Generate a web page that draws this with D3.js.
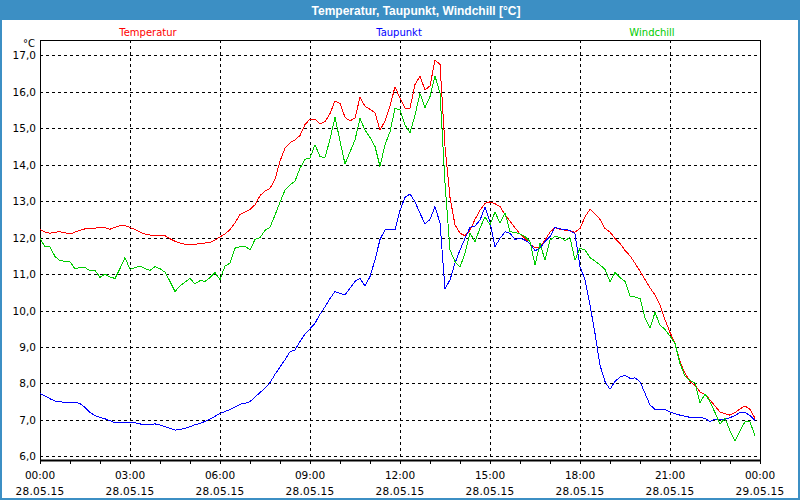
<!DOCTYPE html>
<html>
<head>
<meta charset="utf-8">
<script src="https://cdn.jsdelivr.net/npm/d3@7"></script>
<style>
  body { margin: 0; background: #fff; }
  svg { display: block; }
  text { font-family: "DejaVu Sans", sans-serif; }
</style>
</head>
<body>
<svg id="chart" width="800" height="500"></svg>
<script>
// measurements every 10 minutes, 28.05.15 00:00 .. 23:50
const seriesNames = ['Temperatur', 'Taupunkt', 'Windchill']
const yTicks = [6, 7, 8, 9, 10, 11, 12, 13, 14, 15, 16, 17]

const temperatur = [
  12.23,12.15,12.12,12.15,12.16,12.13,12.1,12.15,12.2,12.24,12.25,12.26,
  12.28,12.27,12.23,12.28,12.33,12.33,12.28,12.22,12.15,12.1,12.07,12.06,
  12.06,12.05,11.97,11.9,11.85,11.82,11.82,11.82,11.83,11.85,11.87,11.93,
  12.02,12.1,12.22,12.4,12.63,12.7,12.77,12.9,13.15,13.28,13.35,13.6,
  14.1,14.45,14.6,14.68,14.8,15.1,15.25,15.25,15.12,15.18,15.4,15.75,
  15.68,15.3,15.2,15.28,15.85,15.6,15.52,15.43,14.95,15.2,15.6,16.14,
  15.82,15.55,15.55,16.2,16.43,16.05,16.16,16.87,16.75,14.5,13.1,12.35,
  12.12,12.05,12.2,12.5,12.75,12.94,12.98,12.93,12.85,12.63,12.45,12.27,
  12.1,11.98,11.82,11.72,11.75,11.93,12.15,12.27,12.23,12.2,12.18,12.15,
  12.25,12.57,12.78,12.65,12.5,12.25,12.15,11.98,11.84,11.65,11.5,11.3,
  11.08,10.85,10.62,10.43,10.15,9.75,9.4,9.1,8.6,8.28,8.05,7.95,
  7.77,7.7,7.55,7.38,7.22,7.17,7.13,7.2,7.3,7.38,7.29,7.04
]

const taupunkt = [
  7.72,7.66,7.58,7.52,7.5,7.47,7.48,7.48,7.45,7.34,7.2,7.12,
  7.07,7.03,6.98,6.92,6.92,6.93,6.93,6.92,6.89,6.86,6.87,6.89,
  6.86,6.81,6.77,6.72,6.74,6.77,6.81,6.87,6.9,6.96,7.02,7.1,
  7.18,7.23,7.28,7.35,7.43,7.45,7.5,7.63,7.75,7.87,8.02,8.25,
  8.45,8.65,8.87,8.92,9.15,9.35,9.5,9.65,9.9,10.1,10.33,10.52,
  10.47,10.43,10.61,10.8,10.88,10.67,10.93,11.39,11.95,12.21,12.21,12.21,
  12.75,13.1,13.2,12.98,12.67,12.37,12.5,12.85,12.4,10.6,10.84,11.3,
  11.66,11.98,12.28,12.32,12.48,12.83,12.44,11.75,11.98,12.16,12.12,11.95,
  11.98,11.93,11.84,11.64,11.71,11.89,12.03,12.28,12.24,12.22,12.2,12.1,
  11.2,10.85,10.15,9.37,8.5,8.05,7.84,8.05,8.18,8.22,8.14,8.15,
  8.05,7.73,7.41,7.29,7.29,7.28,7.22,7.17,7.13,7.1,7.07,7.07,
  7.07,7.04,6.95,7.02,7.02,7.02,7.06,7.12,7.2,7.2,7.12,6.98
]

const windchill = [
  11.98,11.75,11.75,11.48,11.37,11.35,11.34,11.14,11.18,11.18,11.09,11.1,
  10.91,11.0,10.92,10.88,11.15,11.45,11.13,11.18,11.22,11.15,11.1,11.2,
  11.15,11.05,10.8,10.52,10.68,10.78,10.88,10.73,10.82,10.8,10.9,11.04,
  10.85,11.22,11.3,11.71,11.75,11.77,11.66,11.95,12.0,12.2,12.28,12.62,
  12.97,13.3,13.45,13.55,13.9,14.15,14.18,14.55,14.22,14.2,14.7,15.3,
  14.65,14.02,14.35,14.68,15.27,14.95,14.75,14.5,13.95,14.55,14.9,15.55,
  15.5,15.09,14.88,15.36,15.95,15.57,15.87,16.43,15.96,13.5,11.66,11.34,
  11.19,11.57,12.12,11.89,12.26,12.57,12.35,12.7,12.4,12.68,12.16,12.14,
  12.1,12.03,11.89,11.25,11.84,11.38,11.93,12.03,12.01,11.92,12.0,11.38,
  11.71,11.66,11.45,11.36,11.25,11.13,10.79,11.04,10.9,10.8,10.4,10.37,
  10.33,9.8,9.51,9.95,9.6,9.48,9.3,9.1,8.55,8.2,8.08,8.02,
  7.47,7.71,7.5,7.2,6.89,7.05,6.7,6.43,6.7,6.95,6.95,6.56
]

const start = new Date(2015, 4, 28, 0, 0)
const end = new Date(2015, 4, 29, 0, 0)
const times = temperatur.map((d, i) => d3.timeMinute.offset(start, i * 10))

const colors = ['#ff0000', '#0000ff', '#00cc00']
const seriesValues = [temperatur, taupunkt, windchill]

const width = 800
const height = 500
const padLeft = 40, padRight = 760, padTop = 40, padBottom = 460
const svg = d3.select('#chart')

// window frame + title bar
svg.append('rect')
  .attr('x', 0).attr('y', 0)
  .attr('width', width).attr('height', height)
  .attr('fill', '#3c8fc4')
svg.append('rect')
  .attr('x', 2).attr('y', 20)
  .attr('width', width - 4).attr('height', height - 22)
  .attr('fill', '#fff')

svg.append('text')
  .attr('x', 416)
  .attr('y', 15)
  .attr('text-anchor', 'middle')
  .style('font-family', '"Liberation Sans", sans-serif')
  .style('font-weight', 'bold')
  .style('font-size', '12px')
  .attr('fill', '#fff')
  .text('Temperatur, Taupunkt, Windchill [°C]')

const xScale = d3.scaleTime()
  .domain([start, end])
  .range([padLeft, padRight])

const yScale = d3.scaleLinear()
  .domain([5.9, 17.42])
  .range([padBottom, padTop])

// grid
svg.append('g')
  .selectAll('line')
  .data(yTicks)
  .enter()
  .append('line')
    .attr('x1', padLeft)
    .attr('x2', padRight)
    .attr('y1', d => Math.round(yScale(d)) + 0.5)
    .attr('y2', d => Math.round(yScale(d)) + 0.5)
    .style('stroke', '#000')
    .style('stroke-dasharray', '3,3')

const vTicks = d3.timeHour.every(3).range(d3.timeHour.offset(start, 1), end)
svg.append('g')
  .selectAll('line')
  .data(vTicks)
  .enter()
  .append('line')
    .attr('x1', d => Math.round(xScale(d)) + 0.5)
    .attr('x2', d => Math.round(xScale(d)) + 0.5)
    .attr('y1', padTop)
    .attr('y2', padBottom)
    .style('stroke', '#000')
    .style('stroke-dasharray', '3,3')

// frame
svg.append('rect')
  .attr('x', padLeft + 0.5).attr('y', padTop + 0.5)
  .attr('width', padRight - padLeft).attr('height', padBottom - padTop)
  .attr('fill', 'none')
  .style('stroke', '#000')
svg.append('line')
  .attr('x1', padLeft).attr('x2', padRight + 1)
  .attr('y1', padBottom + 0.5).attr('y2', padBottom + 0.5)
  .style('stroke', '#000')
  .style('stroke-width', 2)

// x axis (hourly ticks, labels every 3h)
const xAxis = d3.axisBottom(xScale)
  .ticks(d3.timeHour.every(1))
  .tickSize(4)
  .tickFormat('')
svg.append('g')
  .attr('class', 'x-axis')
  .attr('transform', `translate(0, ${padBottom})`)
  .call(xAxis)

svg.selectAll('.x-axis path.domain').remove()

const labelTimes = d3.timeHour.every(3).range(start, d3.timeMinute.offset(end, 1))
const fmtTime = d3.timeFormat('%H:%M')
const fmtDate = d3.timeFormat('%d.%m.%y')
const xLabels = svg.append('g')
  .selectAll('g')
  .data(labelTimes)
  .enter()
  .append('g')
    .attr('transform', d => `translate(${xScale(d)}, 0)`)
xLabels.append('text')
  .attr('y', 479)
  .attr('text-anchor', 'middle')
  .style('font-size', '10.5px')
  .attr('fill', '#000')
  .text(d => fmtTime(d))
xLabels.append('text')
  .attr('y', 495)
  .attr('text-anchor', 'middle')
  .style('font-size', '10.5px')
  .style('letter-spacing', '0.3px')
  .attr('fill', '#000')
  .text(d => fmtDate(d))

// y labels
svg.append('g')
  .selectAll('text')
  .data(yTicks)
  .enter()
  .append('text')
    .attr('x', 36)
    .attr('y', d => yScale(d) + 4)
    .attr('text-anchor', 'end')
    .style('font-size', '10.5px')
    .attr('fill', '#000')
    .text(d => d3.format('.1f')(d).replace('.', ','))

svg.append('text')
  .attr('x', 35)
  .attr('y', 47)
  .attr('text-anchor', 'end')
  .style('font-size', '10px')
  .attr('fill', '#000')
  .text('°C')

// legend
const legendX = [148, 399, 652]
svg.append('g')
  .selectAll('text')
  .data(seriesNames)
  .enter()
  .append('text')
    .attr('x', (d, i) => legendX[i])
    .attr('y', 36)
    .attr('text-anchor', 'middle')
    .style('font-size', '10px')
    .attr('fill', (d, i) => colors[i])
    .text(d => d)

// lines
const line = d3.line()
  .x((d, i) => xScale(times[i]))
  .y(d => yScale(d))

svg.append('g')
  .selectAll('path')
  .data(seriesValues)
  .enter()
  .append('path')
    .attr('d', d => line(d))
    .attr('fill', 'none')
    .style('stroke', (d, i) => colors[i])
    .style('stroke-width', 1)
    .style('shape-rendering', 'crispEdges')
</script>
</body>
</html>
